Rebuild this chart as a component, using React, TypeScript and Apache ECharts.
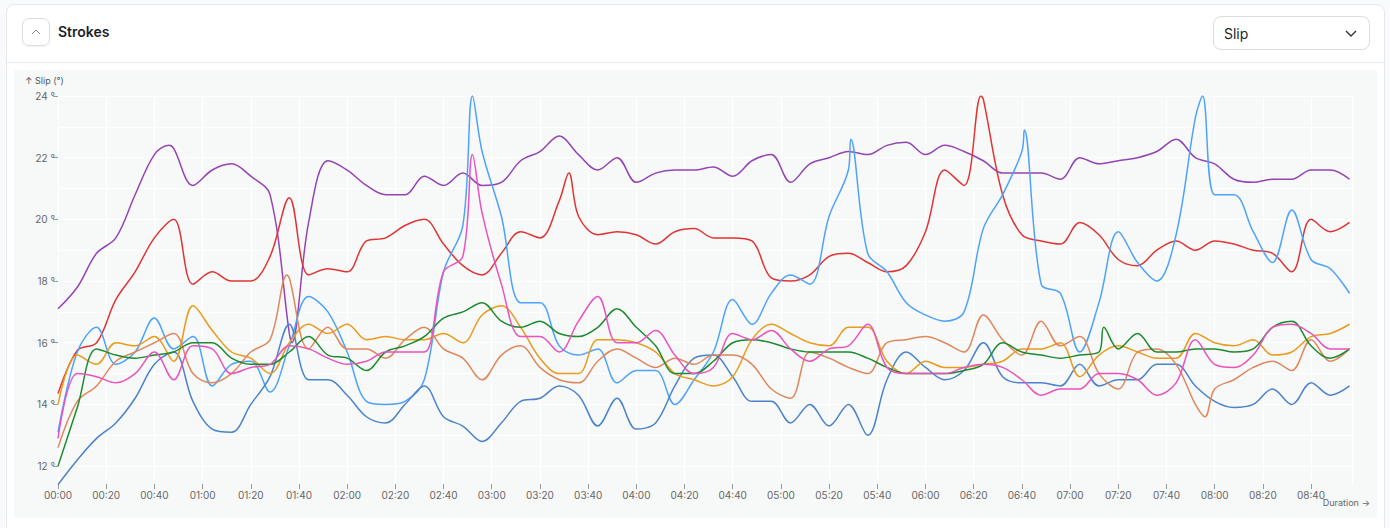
import React, { useEffect, useRef } from "react";
import * as echarts from "echarts";

const SERIES_NAMES = ["Purple", "Red", "Light blue", "Steel blue", "Orange", "Salmon", "Green", "Pink"];
const SERIES_COLORS = ["#9444b4", "#e03434", "#4ea2fb", "#4c82cc", "#e89b1c", "#e0875c", "#1d8a2e", "#ea52be"];

const GRID_T = [0,8,16,24,32,40,48,56,64,72,80,88,96,104,112,120,128,136,144,152,160,168,176,184,192,200,208,216,224,232,240,248,256,264,272,280,288,296,304,312,320,328,336,344,352,360,368,376,384,392,400,408,416,424,432,440,448,456,464,472,480,488,496,504,512,520,528,536];

const purple = [17.1,17.8,18.9,19.4,20.8,22.1,22.3,21.1,21.6,21.8,21.4,20.8,16.3,19.9,21.9,21.6,21.1,20.8,20.8,21.4,21.1,21.5,21.1,21.2,21.9,22.2,22.7,22.1,21.6,22.0,21.2,21.5,21.6,21.6,21.7,21.4,21.9,22.1,21.2,21.8,22.0,22.2,22.1,22.4,22.5,22.1,22.4,22.2,21.9,21.5,21.5,21.5,21.3,22.0,21.8,21.9,22.0,22.2,22.6,22.0,21.8,21.3,21.2,21.3,21.3,21.6,21.6,21.3];
const red = [14.35,15.75,16.0,17.4,18.3,19.4,20.0,17.9,18.3,18.0,18.0,18.8,20.7,18.2,18.4,18.3,19.3,19.4,19.8,20.0,19.2,18.5,18.2,18.9,19.6,19.4,20.6,20.1,19.5,19.6,19.5,19.2,19.6,19.7,19.4,19.4,19.3,18.1,18.0,18.2,18.8,18.9,18.6,18.3,18.5,19.6,21.6,21.1,23.9,20.8,19.5,19.3,19.2,19.9,19.5,18.7,18.5,19.0,19.3,19.0,19.3,19.2,19.0,18.9,18.3,20.0,19.6,19.9];
const lightBlue = [13.1,15.7,16.5,15.3,15.7,16.8,15.8,16.2,14.6,15.3,15.4,14.4,15.9,17.5,17.0,15.7,14.1,14.0,14.1,14.8,18.3,19.8,22.2,20.1,17.3,17.3,15.9,15.6,15.8,14.7,15.1,15.1,14.0,14.8,15.7,17.4,16.6,17.6,18.2,17.9,20.1,21.6,18.9,18.3,17.3,16.9,16.7,17.0,19.7,20.8,22.2,17.9,17.6,15.7,17.3,19.6,18.6,18.0,19.5,23.3,20.8,20.8,19.6,18.6,20.3,18.7,18.4,17.6];
const steelBlue = [11.4,12.2,12.9,13.4,14.2,15.3,15.7,14.1,13.2,13.1,14.0,14.9,16.6,14.8,14.8,14.3,13.6,13.4,14.0,14.6,13.6,13.3,12.8,13.4,14.1,14.2,14.6,14.3,13.3,14.2,13.2,13.4,14.6,15.5,15.6,14.9,14.1,14.1,13.4,14.0,13.3,14.0,13.0,14.8,15.7,15.2,14.8,15.1,16.0,14.9,14.7,14.7,14.6,15.3,14.6,14.8,14.8,15.3,15.3,14.6,14.1,13.9,14.0,14.5,14.0,14.7,14.3,14.6];
const orange = [14.0,15.6,15.3,16.0,15.9,16.2,15.4,17.2,16.4,15.7,15.5,15.0,16.0,16.6,16.3,16.6,16.1,16.2,16.1,16.1,16.3,16.0,16.9,17.2,16.5,15.5,15.0,15.0,16.1,16.1,16.0,15.7,15.0,14.8,14.6,14.9,16.1,16.6,16.3,16.0,15.9,16.5,16.5,15.4,15.0,15.4,15.2,15.2,15.3,15.4,15.8,15.8,16.0,14.9,15.6,15.9,15.7,15.5,15.5,16.3,16.0,15.9,16.1,15.6,15.7,16.2,16.3,16.6];
const salmon = [12.6,14.1,14.6,15.4,15.7,16.0,16.3,15.0,14.7,15.0,15.7,16.1,18.1,15.8,16.5,15.8,15.8,15.5,16.1,16.5,15.8,15.5,14.8,15.6,15.9,15.2,14.8,14.7,15.4,15.8,15.5,15.2,15.5,15.3,15.6,15.6,15.3,14.5,14.2,15.7,15.5,15.2,15.0,16.0,16.1,16.2,16.0,15.7,16.9,16.1,15.6,16.7,15.9,16.2,15.0,14.5,15.7,15.8,15.3,14.0,14.5,14.8,15.2,15.4,15.1,16.1,15.4,15.8];
const green = [12.0,13.9,15.8,15.6,15.5,15.6,15.7,16.0,16.0,15.5,15.3,15.3,15.7,16.2,15.6,15.5,15.1,15.7,15.9,16.2,16.8,17.0,17.3,16.7,16.5,16.7,16.3,16.2,16.5,17.1,16.5,15.9,15.0,15.0,15.4,16.0,16.1,16.0,15.8,15.7,15.7,15.7,15.5,15.2,15.0,15.0,15.0,15.1,15.3,16.0,15.7,15.6,15.5,15.6,15.7,15.8,16.3,15.7,15.7,15.8,15.8,15.7,15.8,16.5,16.7,15.9,15.5,15.8];
const pink = [12.9,15.0,14.9,14.7,15.0,15.7,14.8,15.9,15.8,15.0,15.2,15.3,15.9,15.8,15.5,15.3,15.4,15.7,15.7,15.7,18.3,18.8,20.2,17.9,16.2,16.2,15.7,16.7,17.5,16.0,16.0,16.4,15.6,15.0,15.2,16.3,16.1,16.4,15.8,15.4,15.8,15.9,16.6,15.2,15.0,15.0,15.0,15.2,15.3,15.2,14.8,14.3,14.5,14.5,15.0,15.0,14.8,14.3,14.7,16.1,15.3,15.2,15.6,16.5,16.6,16.3,15.8,15.8];

// extra points (minute, value) for narrow peaks between grid samples
const purpleExtra: [number, number][] = [[46, 22.4], [97, 16.0]];
const redExtra: [number, number][] = [[212, 21.5], [383, 24.0]];
const lightBlueExtra: [number, number][] = [[172, 24.0], [329, 22.6], [401, 22.9], [475, 24.0]];
const steelBlueExtra: [number, number][] = [];
const orangeExtra: [number, number][] = [];
const salmonExtra: [number, number][] = [[95, 18.2], [476, 13.6]];
const greenExtra: [number, number][] = [[434, 16.5]];
const pinkExtra: [number, number][] = [[172, 22.1]];

const Y_LABELS = [12, 14, 16, 18, 20, 22, 24];
const Y_GRID = [12, 13, 14, 15, 16, 17, 18, 19, 20, 21, 22, 23, 24];
const X_MIN = 0;
const X_MAX = 537;
const Y_MIN = 11.42;
const Y_MAX = 24;

function build(vals: number[], extra: [number, number][]) {
  const pts: [number, number][] = GRID_T.map((t, i) => [t, vals[i]]);
  return pts.concat(extra).sort((a, b) => a[0] - b[0]);
}

const ALL = [
  build(purple, purpleExtra),
  build(red, redExtra),
  build(lightBlue, lightBlueExtra),
  build(steelBlue, steelBlueExtra),
  build(orange, orangeExtra),
  build(salmon, salmonExtra),
  build(green, greenExtra),
  build(pink, pinkExtra),
];

function fmt(v: number) {
  const h = Math.floor(v / 60);
  const m = v % 60;
  return String(h).padStart(2, "0") + ":" + String(m).padStart(2, "0");
}

function Chart() {
  const ref = useRef<HTMLDivElement>(null);
  useEffect(() => {
    const chart = echarts.init(ref.current!, null, { renderer: "svg" });
    const series: any[] = ALL.map((d, i) => ({
      name: SERIES_NAMES[i],
      type: "line",
      data: d,
      smooth: 0.35,
      showSymbol: false,
      lineStyle: { width: 1.5, color: SERIES_COLORS[i] },
      itemStyle: { color: SERIES_COLORS[i] },
      z: 3,
    }));
    series.unshift({
      type: "line",
      data: [],
      silent: true,
      z: 0,
      markLine: {
        silent: true,
        z: 0,
        symbol: "none",
        label: { show: false },
        lineStyle: { color: "#ffffff", width: 1, type: "solid" },
        data: Y_GRID.map((y) => ({ yAxis: y })),
      },
    });
    chart.setOption({
      animation: false,
      backgroundColor: "transparent",
      textStyle: { fontFamily: "Inter, sans-serif" },
      grid: { left: 44, right: 25, top: 26, bottom: 34 },
      xAxis: {
        type: "value",
        min: X_MIN,
        max: X_MAX,
        interval: 20,
        axisLine: { show: false },
        axisTick: { show: true, length: 5, lineStyle: { color: "#999" } },
        axisLabel: { formatter: (v: number) => (v % 20 === 0 && v <= 520 ? fmt(v) : ""), color: "#666", fontSize: 10, margin: 6, showMaxLabel: false },
        splitLine: { show: true, lineStyle: { color: "#ffffff", width: 1 } },
      },
      yAxis: {
        type: "value",
        min: Y_MIN,
        max: Y_MAX,
        axisLine: { show: false },
        axisTick: { show: true, length: 5, customValues: Y_LABELS, lineStyle: { color: "#999" } },
        axisLabel: { customValues: Y_LABELS, formatter: (v: number) => v + " °", color: "#666", fontSize: 10, margin: 3 },
        splitLine: { show: false },
      },
      graphic: [
        { type: "text", left: 11, top: 6, style: { text: "↑ Slip (°)", fill: "#555", fontSize: 9, fontFamily: "Inter, sans-serif" } },
        { type: "text", right: 7, top: 428, style: { text: "Duration →", fill: "#666", fontSize: 9, fontFamily: "Inter, sans-serif" } },
      ],
      series,
    });
    return () => chart.dispose();
  }, []);
  return <div ref={ref} style={{ width: 1363, height: 448 }} />;
}

export default function App() {
  return (
    <div style={{ position: "fixed", left: 0, top: 0, width: 1390, height: 528, background: "#f9fafb", fontFamily: "Inter, sans-serif", overflow: "hidden" }}>
      <div style={{ position: "absolute", left: 6, top: 4, width: 1379, height: 540, background: "#fff", border: "1px solid #e6e8eb", borderRadius: 8, boxSizing: "border-box" }} />
      <div style={{ position: "absolute", left: 22, top: 18, width: 28, height: 28, border: "1px solid #d9dce1", borderRadius: 7, boxSizing: "border-box", display: "flex", alignItems: "center", justifyContent: "center", boxShadow: "0 1px 2px rgba(0,0,0,0.06)" }}>
        <svg width="10" height="6" viewBox="0 0 10 6"><polyline points="1,5 5,1 9,5" fill="none" stroke="#888" strokeWidth="1" /></svg>
      </div>
      <div style={{ position: "absolute", left: 58, top: 23, fontSize: 14, fontWeight: 600, color: "#1a1f2b" }}>Strokes</div>
      <div style={{ position: "absolute", left: 1213, top: 16, width: 157, height: 34, border: "1px solid #d9dce1", borderRadius: 8, boxSizing: "border-box", display: "flex", alignItems: "center", justifyContent: "space-between", padding: "0 12px 0 10px", fontSize: 14, color: "#1a1f2b" }}>
        <span>Slip</span>
        <svg width="12" height="7" viewBox="0 0 12 7"><polyline points="1,1 6,6 11,1" fill="none" stroke="#333" strokeWidth="1.4" /></svg>
      </div>
      <div style={{ position: "absolute", left: 7, top: 62, width: 1377, height: 1, background: "#e8eaed" }} />
      <div style={{ position: "absolute", left: 14, top: 70, width: 1363, height: 448, background: "#f7f9f9" }}>
        <Chart />
      </div>
    </div>
  );
}
